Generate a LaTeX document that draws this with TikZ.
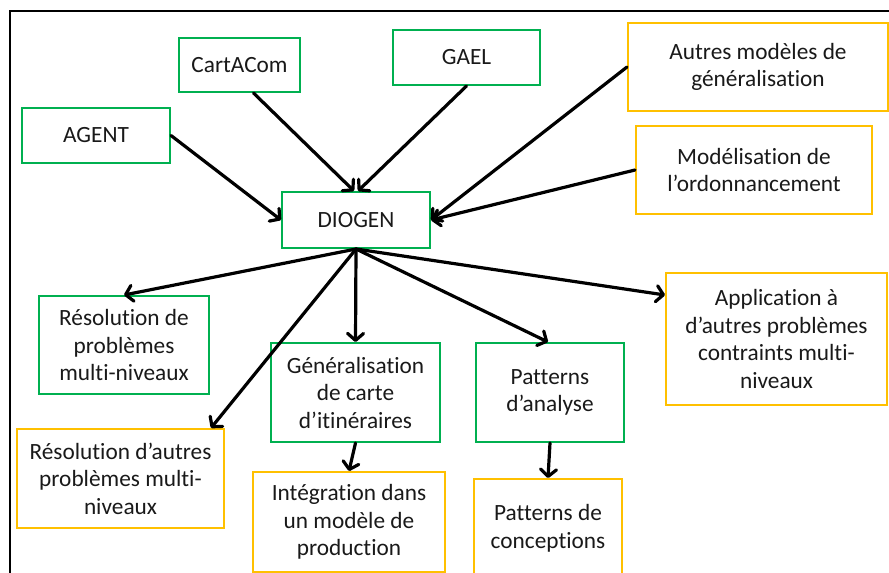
\documentclass[tikz,border=0pt]{standalone}
\usepackage{fontspec}
\setmainfont[Ligatures=NoCommon]{Carlito}
\usetikzlibrary{arrows.meta,calc}
\definecolor{gboxc}{HTML}{00B050}
\definecolor{yboxc}{HTML}{FFC000}
\begin{document}
\begin{tikzpicture}[x=1pt,y=-1pt,
  box/.style={draw,line width=2pt,align=center,inner sep=0pt,
    font=\fontsize{23.3}{27.5}\selectfont,text=black!90},
  greenbox/.style={box,draw=gboxc},
  yellowbox/.style={box,draw=yboxc},
  arr/.style={line width=3.2pt,line cap=round,-{Straight Barb[length=7pt,width=16pt,line cap=round,line join=round]}},
  frame/.style={line width=2pt,draw=black}]
\useasboundingbox (0,0) rectangle (889,573);
\draw[frame] (10,573) -- (10,11) -- (889,11);

\node[greenbox,minimum width=148pt,minimum height=55pt] (agent) at (96,135.5) {AGENT};
\node[greenbox,minimum width=121pt,minimum height=54pt] (cartacom) at (239.5,65) {CartACom};
\node[greenbox,minimum width=147pt,minimum height=55pt] (gael) at (466.5,57.5) {GAEL};
\node[yellowbox,minimum width=260pt,minimum height=88pt] (autres) at (758,67) {Autres modèles de\\généralisation};
\node[yellowbox,minimum width=236pt,minimum height=88pt] (model) at (754,170) {Modélisation de\\l’ordonnancement};
\node[greenbox,minimum width=148pt,minimum height=56pt] (diogen) at (356,220) {DIOGEN};
\node[greenbox,minimum width=170pt,minimum height=98pt] (resprob) at (124,345) {Résolution de\\problèmes\\multi-niveaux};
\node[greenbox,minimum width=169pt,minimum height=99pt] (gen) at (355.5,392.5) {Généralisation\\de carte\\d’itinéraires};
\node[yellowbox,minimum width=207pt,minimum height=99pt] (resautres) at (120.5,478.5) {Résolution d’autres\\problèmes multi-\\niveaux};
\node[yellowbox,minimum width=192pt,minimum height=100pt] (integ) at (349,522) {Intégration dans\\un modèle de\\production};
\node[greenbox,minimum width=148pt,minimum height=99pt] (pata) at (550,392.5) {Patterns\\d’analyse};
\node[yellowbox,minimum width=148pt,minimum height=99pt] (patc) at (548,528.5) {Patterns de\\conceptions};
\node[yellowbox,minimum width=221pt,minimum height=132pt] (app) at (776.5,339) {Application à\\d’autres problèmes\\contraints multi-\\niveaux};

\draw[arr] (agent.east) -- (diogen.west);
\draw[arr] ($(cartacom.south)+(14,0)$) -- ($(diogen.north)+(-2,0)$);
\draw[arr] (gael.south) -- ($(diogen.north)+(2,0)$);
\draw[arr] (autres.west) -- (diogen.east);
\draw[arr] (model.west) -- (diogen.east);

\draw[arr] (diogen.south) -- (resprob.north);
\draw[arr] (diogen.south) -- ($(resautres.north east)+(-14,0)$);
\draw[arr] (diogen.south) -- (gen.north);
\draw[arr] (diogen.south) -- ($(pata.north)+(-2,0)$);
\draw[arr] (diogen.south) -- ($(app.north west)+(0,23)$);
\draw[arr] (gen.south) -- (integ.north);
\draw[arr] (pata.south) -- (patc.north);
\end{tikzpicture}
\end{document}
